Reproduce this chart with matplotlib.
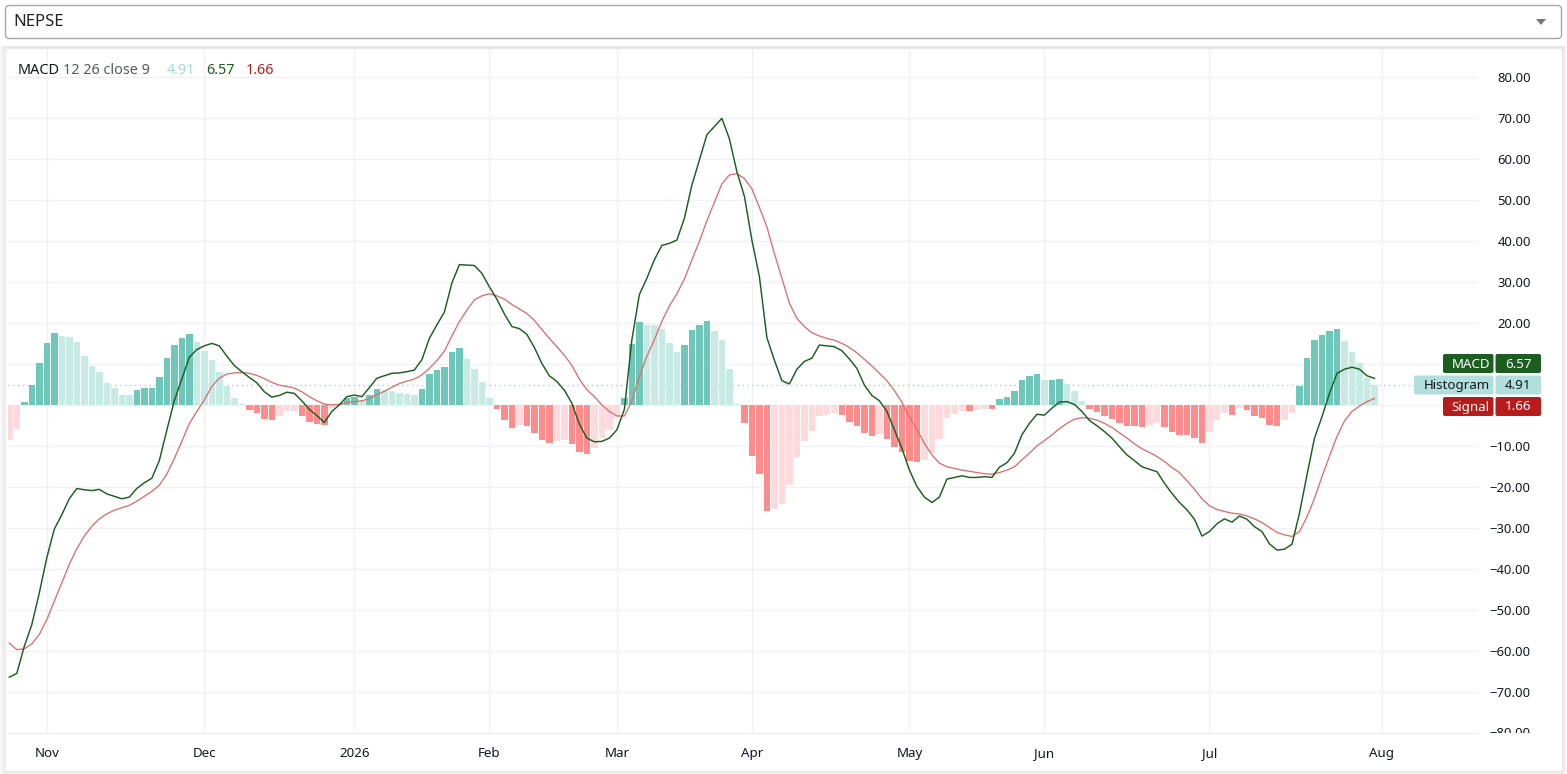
import matplotlib
matplotlib.use("Agg")
import matplotlib.pyplot as plt
from matplotlib.patches import FancyBboxPatch, Rectangle, Polygon
from matplotlib.transforms import Bbox
import numpy as np

plt.rcParams['font.family'] = ['Noto Sans', 'DejaVu Sans']

# MACD 12 26 close 9, daily bars (NEPSE trading days)
hist = [-8.4, -5.9, 0.9, 5.0, 10.2, 15.3, 17.7, 17.0, 16.7, 15.5,
        12.1, 9.7, 8.0, 5.5, 4.1, 2.6, 2.5, 3.8, 4.1, 4.3,
        7.0, 11.6, 14.6, 16.3, 17.5, 15.5, 13.3, 11.1, 8.1, 4.8,
        1.8, 0.3, -1.1, -2.0, -3.3, -3.5, -2.5, -1.4, -1.3, -2.5,
        -4.0, -4.5, -4.7, -0.6, 0.3, 1.9, 2.1, 1.1, 2.5, 4.0,
        3.7, 3.5, 3.0, 2.8, 2.5, 4.0, 7.6, 8.6, 9.3, 13.0,
        14.0, 11.3, 8.9, 5.7, 1.8, -0.9, -3.6, -5.5, -4.7, -5.0,
        -6.7, -8.5, -9.2, -8.7, -8.5, -9.4, -11.4, -11.9, -10.3, -8.0,
        -6.0, -2.8, 1.8, 15.0, 20.3, 19.6, 19.5, 18.6, 15.2, 13.0,
        14.7, 18.4, 19.6, 20.6, 18.1, 15.9, 8.9, 0.3, -4.2, -12.4,
        -16.7, -25.8, -25.3, -24.1, -19.4, -12.5, -8.7, -6.2, -2.5, -2.3,
        -1.9, -2.4, -4.1, -5.0, -6.7, -7.5, -6.9, -8.2, -10.2, -11.4,
        -13.6, -13.8, -13.3, -11.6, -8.2, -3.1, -2.1, -1.4, -1.5, -1.1,
        -0.8, -0.9, 1.5, 2.0, 3.5, 6.2, 7.2, 7.6, 6.1, 6.2,
        6.4, 5.2, 3.5, 1.1, -0.9, -1.6, -2.6, -3.3, -4.3, -5.0,
        -5.1, -5.3, -4.8, -4.3, -5.3, -6.5, -7.2, -7.3, -7.9, -9.1,
        -6.4, -3.7, -2.0, -2.3, -0.6, -1.1, -2.5, -3.0, -4.7, -5.0,
        -3.7, -2.0, 4.8, 11.6, 15.9, 17.2, 18.1, 18.6, 15.7, 13.0,
        10.2, 6.7, 4.91]

macd = [-66.3, -65.4, -58.8, -53.5, -45.8, -37.2, -30.2, -26.7, -22.8, -20.3,
        -20.6, -20.8, -20.5, -21.6, -22.2, -22.8, -22.4, -20.3, -18.9, -17.8,
        -13.5, -6.1, 1.1, 6.4, 11.7, 13.6, 14.5, 15.1, 14.5, 12.0,
        9.7, 8.2, 6.8, 5.5, 3.3, 2.0, 2.4, 3.2, 2.9, 1.1,
        -1.0, -2.5, -4.2, -1.5, 0.1, 2.1, 2.5, 2.1, 4.3, 6.6,
        7.2, 7.8, 7.9, 8.2, 8.6, 11.1, 16.3, 19.6, 22.7, 29.8,
        34.3, 34.2, 34.1, 32.2, 28.9, 25.9, 22.3, 19.2, 18.7, 17.3,
        14.1, 10.2, 7.2, 5.8, 3.7, 0.5, -4.6, -8.0, -8.9, -8.8,
        -8.0, -6.0, -1.0, 16.0, 27.0, 31.0, 35.5, 39.0, 39.5, 40.3,
        45.6, 53.7, 59.8, 66.0, 68.0, 70.0, 65.0, 57.0, 51.0, 40.3,
        31.4, 16.5, 11.0, 6.0, 5.2, 8.8, 10.7, 11.5, 14.7, 14.5,
        14.3, 13.3, 11.3, 9.0, 4.9, 2.4, 1.1, -1.5, -6.0, -10.5,
        -15.8, -19.8, -22.4, -23.7, -22.4, -18.0, -17.6, -17.2, -17.6, -17.6,
        -17.4, -17.6, -15.1, -14.0, -11.7, -7.2, -4.4, -2.2, -2.4, -0.7,
        0.8, 0.9, 0.2, -1.5, -3.7, -5.0, -6.4, -8.0, -10.1, -12.1,
        -13.5, -15.0, -15.6, -16.2, -19.0, -21.5, -23.7, -25.5, -27.8, -31.9,
        -30.8, -28.9, -27.7, -28.5, -27.0, -27.8, -29.6, -30.8, -33.8, -35.3,
        -35.1, -33.9, -26.3, -17.0, -8.0, -2.8, 2.9, 7.8, 8.8, 9.3,
        8.8, 7.2, 6.57]

signal = [-58.0, -59.6, -59.4, -58.2, -55.9, -52.3, -47.8, -43.3, -38.8, -35.0,
          -31.9, -29.5, -27.7, -26.5, -25.6, -25.0, -24.4, -23.4, -22.2, -21.0,
          -19.5, -16.8, -13.0, -8.8, -4.5, -1.5, 1.3, 4.6, 6.6, 7.6,
          7.9, 8.0, 7.8, 7.3, 6.5, 5.6, 4.9, 4.6, 4.2, 3.3,
          2.1, 1.1, 0.3, 0.1, 0.2, 0.7, 0.9, 1.1, 1.6, 2.6,
          3.4, 4.4, 5.3, 5.9, 6.4, 7.4, 9.0, 10.9, 13.2, 16.9,
          20.4, 23.2, 25.7, 26.7, 27.2, 26.7, 25.9, 24.6, 23.5, 22.4,
          20.7, 18.5, 16.3, 14.3, 12.2, 9.7, 6.4, 3.8, 2.1, 0.1,
          -1.5, -2.6, -2.6, 1.0, 7.0, 12.0, 16.0, 20.5, 24.2, 27.2,
          30.8, 35.5, 40.0, 45.0, 49.5, 54.0, 56.2, 56.5, 55.3, 52.8,
          48.3, 43.5, 37.0, 31.0, 24.9, 21.2, 19.2, 17.7, 16.9, 16.3,
          15.9, 15.1, 14.1, 12.8, 11.2, 9.6, 7.8, 6.0, 3.6, 0.7,
          -2.8, -6.0, -9.3, -12.1, -14.1, -15.0, -15.4, -15.8, -16.1, -16.4,
          -16.7, -16.8, -16.4, -15.8, -15.0, -13.3, -11.7, -9.9, -8.6, -7.2,
          -5.7, -4.4, -3.4, -3.0, -3.2, -3.6, -4.4, -5.4, -6.7, -8.0,
          -9.4, -10.6, -11.5, -12.5, -13.7, -15.2, -16.4, -18.4, -20.5, -22.8,
          -24.5, -25.4, -25.9, -26.3, -26.5, -27.0, -27.7, -28.6, -29.8, -31.0,
          -31.6, -32.0, -30.8, -27.2, -22.7, -17.4, -12.4, -7.6, -3.8, -1.5,
          -0.2, 0.9, 1.66]

# first trading bar of each month (bar index) and its label
month_idx = [5, 26, 46, 64, 81, 99, 120, 138, 160, 183]
month_lbl = ['Nov', 'Dec', '2026', 'Feb', 'Mar', 'Apr', 'May', 'Jun', 'Jul', 'Aug']

C_UP, C_UP_L = '#6fc7b9', '#c6ebe5'
C_DN, C_DN_L = '#ff8c8c', '#ffdadd'
C_MACD, C_SIG = '#1b5e20', '#dc6e6e'
TXT = '#131722'

x = np.arange(len(hist))
h = np.array(hist)
prev = np.concatenate([[h[0] - 1], h[:-1]])
colors = np.where(h >= 0, np.where(h > prev, C_UP, C_UP_L),
                  np.where(h > prev, C_DN_L, C_DN))

W, H = 1567, 774
fig = plt.figure(figsize=(W / 100, H / 100), dpi=100)

# page background: selector box + chart panel
bg = fig.add_axes([0, 0, 1, 1], zorder=0)
bg.set_xlim(0, W)
bg.set_ylim(H, 0)
bg.axis('off')
bg.add_patch(FancyBboxPatch((5.5, 5.5), 1556, 33, boxstyle='round,pad=0,rounding_size=4',
                            fc='white', ec='#a8a8a8', lw=1))
bg.text(13, 22.5, 'NEPSE', fontsize=12, color='#222', va='center', ha='left')
bg.add_patch(Polygon([[1536, 19], [1546, 19], [1541, 25]], closed=True, fc='#777', ec='none'))
for k, a in enumerate([0.05, 0.04, 0.03, 0.02]):
    d = k + 1
    bg.add_patch(Rectangle((5 - d, 48 - d * 0.5), 1557 + 2 * d, 723 + d * 1.5,
                           fc='none', ec=(0, 0, 0, a), lw=1.2))
bg.add_patch(Rectangle((5, 48), 1557, 723, fc='white', ec='#e6e6e6', lw=0.8))

# chart
ax = fig.add_axes([8 / W, 1 - 733 / H, 1470 / W, 683 / H], zorder=1)
ax.set_facecolor('none')
ax.bar(x, hist, width=0.86, color=colors, zorder=2)
ax.plot(x, signal, color=C_SIG, lw=0.95, zorder=3)
ax.plot(x, macd, color=C_MACD, lw=1.05, zorder=4)
ax.axhline(hist[-1], color='#9fd6cd', lw=1, ls=(0, (1, 2.5)), zorder=1)

ax.set_xlim(-0.17, 195.8)
ax.set_ylim(-79.93, 86.66)
yt = np.arange(-70, 81, 10)
ax.set_yticks(yt)
# the 10.00 and 0.00 labels sit under the last-value badges
ax.set_yticklabels(['' if v in (0, 10) else f'{v:.2f}'.replace('-', '\u2212') for v in yt],
                   ha='right')
ax.yaxis.tick_right()
ax.tick_params(axis='y', length=0, pad=38, labelsize=9.4, labelcolor=TXT)
ax.set_xticks(month_idx)
ax.set_xticklabels(month_lbl)
ax.tick_params(axis='x', length=0, pad=10, labelsize=9.6, labelcolor=TXT)
for t in ax.get_xticklabels():
    if t.get_text() == '2026':
        t.set_fontweight('bold')
ax.grid(True, color='#f0f1f4', lw=1, zorder=0)
ax.set_axisbelow(True)
for s in ['top', 'left', 'right']:
    ax.spines[s].set_visible(False)
ax.spines['bottom'].set_color('#eaeaea')

# overlay: legend text and last-value badges
top = fig.add_axes([0, 0, 1, 1], zorder=3)
top.set_xlim(0, W)
top.set_ylim(H, 0)
top.axis('off')
top.patch.set_alpha(0)
fs = 10.4
top.text(18, 70, 'MACD', fontsize=fs, color=TXT, va='center')
top.text(63, 70, '12 26 close 9', fontsize=fs, color='#555a66', va='center')
top.text(167, 70, f'{hist[-1]:.2f}', fontsize=fs, color='#a3ddd4', va='center')
top.text(206, 70, f'{macd[-1]:.2f}', fontsize=fs, color=C_MACD, va='center')
top.text(246, 70, f'{signal[-1]:.2f}', fontsize=fs, color='#b71c1c', va='center')

# bottom price label, half hidden behind the time scale
lab = top.text(1531, 733.5, '\u221280.00', fontsize=9.4, color=TXT, ha='right', va='center')
lab.set_clip_box(Bbox.from_extents(1478, H - 733, 1567, H - 700))
lab.set_clip_on(True)

badges = [('MACD', f'{macd[-1]:.2f}', '#1b5e20', 'white', 1443, 363.5),
          ('Histogram', f'{hist[-1]:.2f}', '#b2dfdb', TXT, 1414, 385),
          ('Signal', f'{signal[-1]:.2f}', '#b71c1c', 'white', 1443, 406.5)]
for name, val, fc, tc, x0, yc in badges:
    top.add_patch(FancyBboxPatch((x0, yc - 9.5), 1493.5 - x0, 19,
                                 boxstyle='round,pad=0,rounding_size=2', fc=fc, ec='none'))
    top.add_patch(FancyBboxPatch((1495.5, yc - 9.5), 45.5, 19,
                                 boxstyle='round,pad=0,rounding_size=2', fc=fc, ec='none'))
    top.text(1490, yc + 0.5, name, fontsize=9.6, color=tc, ha='right', va='center',
             fontweight='bold' if tc == 'white' else 'normal')
    top.text(1518, yc + 0.5, val, fontsize=9.6, color=tc, ha='center', va='center',
             fontweight='bold' if tc == 'white' else 'normal')

fig.savefig('out.png', dpi=100)
